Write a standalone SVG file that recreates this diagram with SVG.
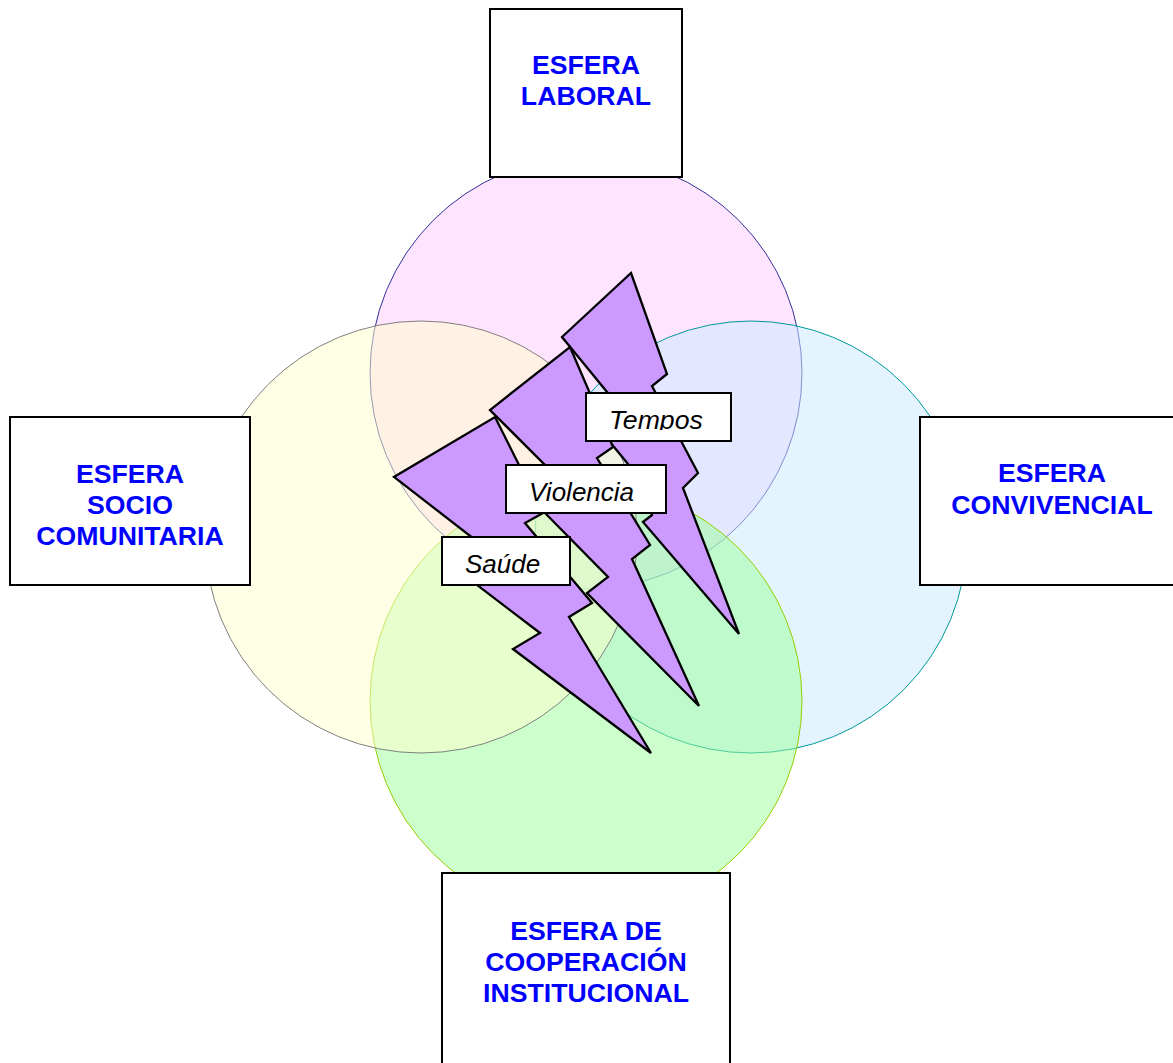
<svg xmlns="http://www.w3.org/2000/svg" width="1173" height="1063" viewBox="0 0 1173 1063">
<style>
.c{stroke-width:1}
.box{fill:#fff;stroke:#000;stroke-width:2}
.bolt{fill:#cc99ff;stroke:#000;stroke-width:2.3;stroke-linejoin:miter}
.h{font:bold 26.67px "Liberation Sans",Arial,sans-serif;fill:#0000ff;text-anchor:middle}
.i{font:italic 26px "Liberation Sans",Arial,sans-serif;fill:#000}
</style>
<defs><clipPath id="tc"><rect x="586" y="393" width="145" height="37"/></clipPath></defs>
<rect width="1173" height="1063" fill="#fff"/>
<g id="circles">
<circle id="circle-top" class="c" cx="586" cy="373" r="216" fill="#ffcaff" fill-opacity=".5" stroke="#333399"/>
<circle id="circle-right" class="c" cx="751" cy="537" r="216" fill="#c8eaff" fill-opacity=".5" stroke="#009999"/>
<circle id="circle-bottom" class="c" cx="586" cy="701" r="216" fill="#99ff99" fill-opacity=".5" stroke="#99cc00"/>
<circle id="circle-left" class="c" cx="421" cy="537" r="216" fill="#ffffcc" fill-opacity=".5" stroke="#808080"/>
</g>
<g id="node-laboral"><rect class="box" x="490" y="9" width="192" height="168"/>
<text class="h" x="586" y="74">ESFERA</text><text class="h" x="586" y="105">LABORAL</text></g>
<g id="node-socio"><rect class="box" x="10" y="417" width="240" height="168"/>
<text class="h" x="130" y="483">ESFERA</text><text class="h" x="130" y="514">SOCIO</text><text class="h" x="130" y="545">COMUNITARIA</text></g>
<g id="node-convivencial"><rect class="box" x="920" y="417" width="260" height="168"/>
<text class="h" x="1052" y="482">ESFERA</text><text class="h" x="1052" y="514">CONVIVENCIAL</text></g>
<g id="node-cooperacion"><rect class="box" x="442" y="873" width="288" height="200"/>
<text class="h" x="586" y="940">ESFERA DE</text><text class="h" x="586" y="971">COOPERACIÓN</text><text class="h" x="586" y="1002">INSTITUCIONAL</text></g>
<g id="bolts">
<polygon id="bolt-tempos" class="bolt" points="631,273 667,374 652,386 698,473 683,488 739,634 643,522 652,515 637,475 628,464 605,436 630,420 562,337"/>
<polygon id="bolt-violencia" class="bolt" points="570,347 613,447 597,458 650,545 632,559 699,706 587,593 608,577 545,513 530,498 575,495 490,410"/>
<polygon id="bolt-saude" class="bolt" points="495,417 543,513 525,523 592,603 569,617 651,753 513,649 540,633 460,572 500,559 394,477"/>
</g>
<g id="node-tempos"><rect class="box" x="586" y="393" width="145" height="48"/>
<text class="i" style="font-size:26.67px" x="609" y="429" clip-path="url(#tc)">Tempos</text></g>
<g id="node-violencia"><rect class="box" x="506" y="465" width="160" height="48"/>
<text class="i" x="529" y="501">Violencia</text></g>
<g id="node-saude"><rect class="box" x="442" y="537" width="128" height="48"/>
<text class="i" x="465" y="573">Saúde</text></g>
</svg>
